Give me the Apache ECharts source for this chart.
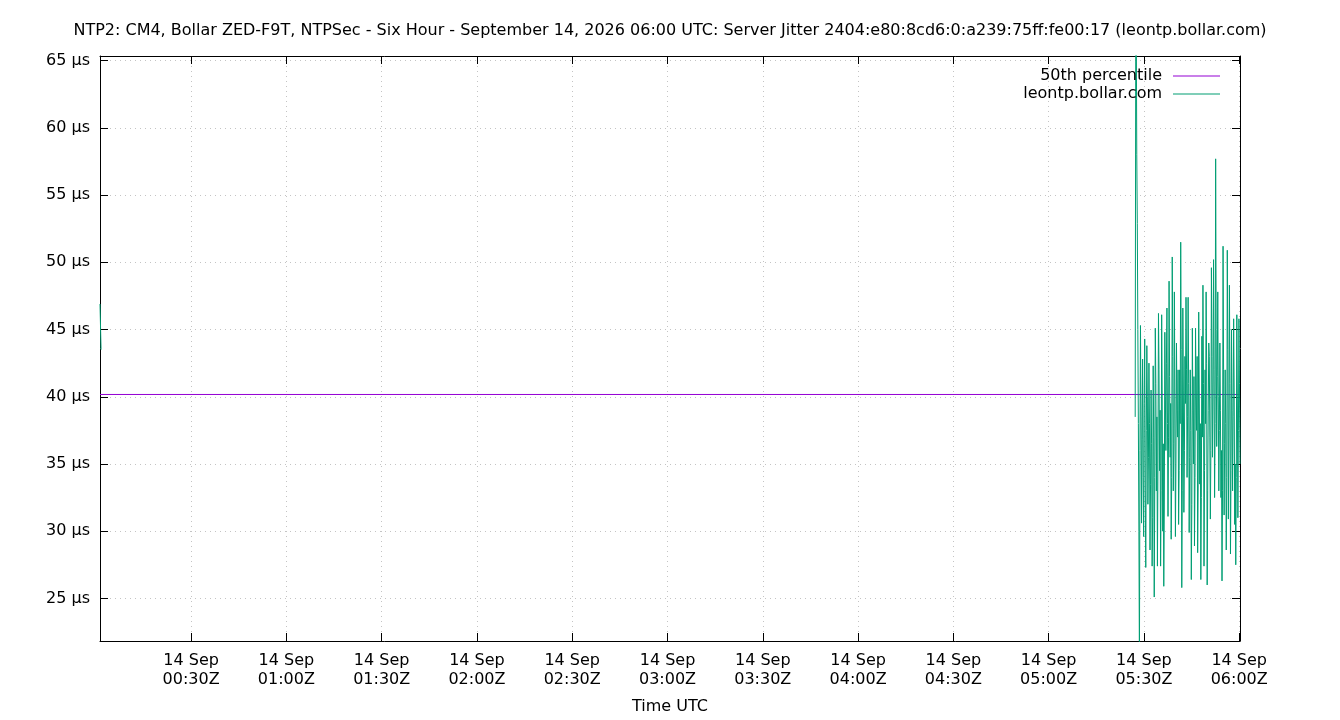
<!DOCTYPE html>
<html>
<head>
<meta charset="utf-8">
<script src="https://cdn.jsdelivr.net/npm/echarts@6/dist/echarts.min.js"></script>
<style>
html,body{margin:0;padding:0;background:#fff;}
#chart{width:1340px;height:720px;}
</style>
</head>
<body>
<div id="chart"></div>
<script>
// ---- data ----
const titleText = 'NTP2: CM4, Bollar ZED-F9T, NTPSec - Six Hour - September 14, 2026 06:00 UTC: Server Jitter 2404:e80:8cd6:0:a239:75ff:fe00:17 (leontp.bollar.com)';
const seriesNames = ['50th percentile', 'leontp.bollar.com'];
const yTickValues = [25, 30, 35, 40, 45, 50, 55, 60, 65];
const xTickValues = [
  Date.UTC(2026, 8, 14, 0, 30), Date.UTC(2026, 8, 14, 1, 0), Date.UTC(2026, 8, 14, 1, 30),
  Date.UTC(2026, 8, 14, 2, 0), Date.UTC(2026, 8, 14, 2, 30), Date.UTC(2026, 8, 14, 3, 0),
  Date.UTC(2026, 8, 14, 3, 30), Date.UTC(2026, 8, 14, 4, 0), Date.UTC(2026, 8, 14, 4, 30),
  Date.UTC(2026, 8, 14, 5, 0), Date.UTC(2026, 8, 14, 5, 30), Date.UTC(2026, 8, 14, 6, 0)
];
// the x range spans the data (first to last sample)
const xMinUTC = Date.UTC(2026, 8, 14, 0, 1, 19);
const xMaxUTC = Date.UTC(2026, 8, 14, 6, 0, 15);
const yMin = 21.83, yMax = 65.35;

const percentile50Times = [xMinUTC, xMaxUTC];
const percentile50Values = [40.17, 40.17];

// a few samples right at the start of the window
const earlyTimes = [Date.UTC(2026, 8, 14, 0, 1, 19), Date.UTC(2026, 8, 14, 0, 1, 39)];
const earlyValues = [46.9, 43.5];

// dense samples, every 10 s from 05:27:15 UTC
const lateStartUTC = Date.UTC(2026, 8, 14, 5, 27, 15);
const lateStepSec = 10;
const lateValues = [
  38.5, 66.0, 68.0, 58.0, 52.9, 45.0, 38.0, 30.0, 20.0, 36.0,
  45.3, 38.5, 30.6, 36.8, 42.8, 34.0, 29.6, 39.5, 44.3, 33.0,
  27.3, 37.5, 43.8, 40.0, 32.0, 35.5, 42.5, 38.0, 28.6, 33.5,
  40.5, 36.5, 27.4, 31.0, 42.3, 37.0, 25.1, 34.0, 45.1, 41.0,
  33.0, 38.5, 27.4, 35.0, 46.2, 42.0, 34.5, 39.0, 27.4, 33.0,
  46.1, 40.5, 30.0, 36.5, 25.9, 31.5, 44.8, 40.0, 36.0, 42.5,
  46.6, 38.0, 31.1, 37.0, 48.6, 41.5, 35.5, 39.5, 29.4, 34.0,
  50.4, 43.0, 33.0, 36.5, 47.8, 40.0, 29.6, 35.0, 44.0, 39.0,
  37.0, 42.0, 30.5, 34.5, 42.0, 38.0, 51.5, 43.5, 25.8, 33.0,
  46.6, 40.5, 31.4, 36.0, 43.0, 39.5, 47.4, 42.0, 34.0, 38.5,
  47.4, 41.0, 29.9, 35.5, 42.0, 37.5, 26.4, 32.0, 45.1, 39.0,
  35.0, 41.5, 28.9, 34.0, 45.1, 40.0, 37.5, 43.0, 28.4, 33.5,
  46.3, 40.5, 33.5, 38.0, 26.4, 32.5, 44.5, 37.0, 48.3, 41.0,
  27.4, 34.5, 42.0, 38.0, 47.8, 42.5, 26.0, 33.0, 39.0, 44.0,
  43.0, 37.0, 30.9, 36.0, 49.6, 43.0, 35.5, 40.0, 50.2, 42.0,
  32.5, 38.0, 57.7, 45.0, 36.3, 41.5, 47.8, 40.0, 33.0, 37.5,
  44.0, 39.0, 32.5, 36.0, 26.3, 33.0, 51.2, 42.0, 31.2, 36.5,
  42.0, 38.0, 28.6, 34.0, 50.9, 43.5, 30.9, 37.0, 48.3, 41.0,
  28.3, 34.5, 45.0, 39.0, 33.0, 38.5, 45.8, 40.5, 30.5, 35.0,
  27.5, 34.0, 46.1, 40.0, 31.0, 37.5, 45.8, 41.0, 35.0
];

// ---- build ----
const pctData = percentile50Times.map((t, i) => [t, percentile50Values[i]]);
const jitterData = earlyTimes.map((t, i) => [t, earlyValues[i]]);
jitterData.push([earlyTimes[earlyTimes.length - 1] + 1, null]);
lateValues.forEach((v, i) => jitterData.push([lateStartUTC + i * lateStepSec * 1000, v]));

const FONT = 'DejaVu Sans';
const FS = 16;
const pad = n => (n < 10 ? '0' : '') + n;
const months = ['Jan','Feb','Mar','Apr','May','Jun','Jul','Aug','Sep','Oct','Nov','Dec'];
function xLabel(v) {
  const d = new Date(v);
  return d.getUTCDate() + ' ' + months[d.getUTCMonth()] + '\n' + pad(d.getUTCHours()) + ':' + pad(d.getUTCMinutes()) + 'Z';
}
const gridLine = { show: true, lineStyle: { color: '#c4c4c4', width: 1, type: [1, 4] } };
const axisLineBlack = { show: true, onZero: false, lineStyle: { color: '#000', width: 1 } };
const tickIn = (vals) => ({ show: true, inside: true, length: 8, lineStyle: { color: '#000' }, customValues: vals });

const chart = echarts.init(document.getElementById('chart'), null, { renderer: 'canvas' });
chart.setOption({
  animation: false,
  backgroundColor: '#fff',
  textStyle: { fontFamily: FONT },
  title: {
    text: titleText, left: 'center', top: 18,
    textStyle: { fontFamily: FONT, fontSize: FS, fontWeight: 'normal', color: '#000' }
  },
  legend: {
    orient: 'vertical', right: 115, top: 63, align: 'right',
    itemWidth: 47, itemHeight: 1, itemGap: 2,
    icon: 'rect',
    textStyle: { fontFamily: FONT, fontSize: FS, color: '#000', padding: [0, 6, 0, 0] },
    data: seriesNames
  },
  grid: { left: 100, right: 100, top: 56, bottom: 79, containLabel: false },
  xAxis: [{
    type: 'value', min: xMinUTC, max: xMaxUTC,
    position: 'bottom',
    name: 'Time UTC', nameLocation: 'middle', nameGap: 58,
    nameTextStyle: { fontFamily: FONT, fontSize: FS, color: '#000' },
    axisLine: axisLineBlack,
    axisTick: tickIn(xTickValues),
    axisLabel: { customValues: xTickValues, formatter: xLabel, fontFamily: FONT, fontSize: FS, color: '#000', lineHeight: 19, margin: 10 },
    splitLine: gridLine
  }, {
    type: 'value', min: xMinUTC, max: xMaxUTC,
    position: 'top',
    axisLine: axisLineBlack,
    axisTick: tickIn(xTickValues),
    axisLabel: { show: false, customValues: xTickValues },
    splitLine: { show: false }
  }],
  yAxis: [{
    type: 'value', min: yMin, max: yMax, position: 'left',
    axisLine: axisLineBlack,
    axisTick: tickIn(yTickValues),
    axisLabel: { fontFamily: FONT, fontSize: FS, color: '#000', margin: 10, customValues: yTickValues, formatter: v => v + ' µs' },
    splitLine: gridLine
  }, {
    type: 'value', min: yMin, max: yMax, position: 'right',
    axisLine: axisLineBlack,
    axisTick: tickIn(yTickValues),
    axisLabel: { show: false, customValues: yTickValues },
    splitLine: { show: false }
  }],
  series: [{
    name: seriesNames[0], type: 'line', xAxisIndex: 0, yAxisIndex: 0,
    data: pctData, showSymbol: false, symbol: 'none',
    lineStyle: { color: '#9400d3', width: 1 }, itemStyle: { color: '#9400d3' },
    clip: true
  }, {
    name: seriesNames[1], type: 'line', xAxisIndex: 0, yAxisIndex: 0,
    data: jitterData, showSymbol: false, symbol: 'none', connectNulls: false,
    lineStyle: { color: '#009e73', width: 1 }, itemStyle: { color: '#009e73' },
    clip: true
  }]
});
</script>
</body>
</html>
